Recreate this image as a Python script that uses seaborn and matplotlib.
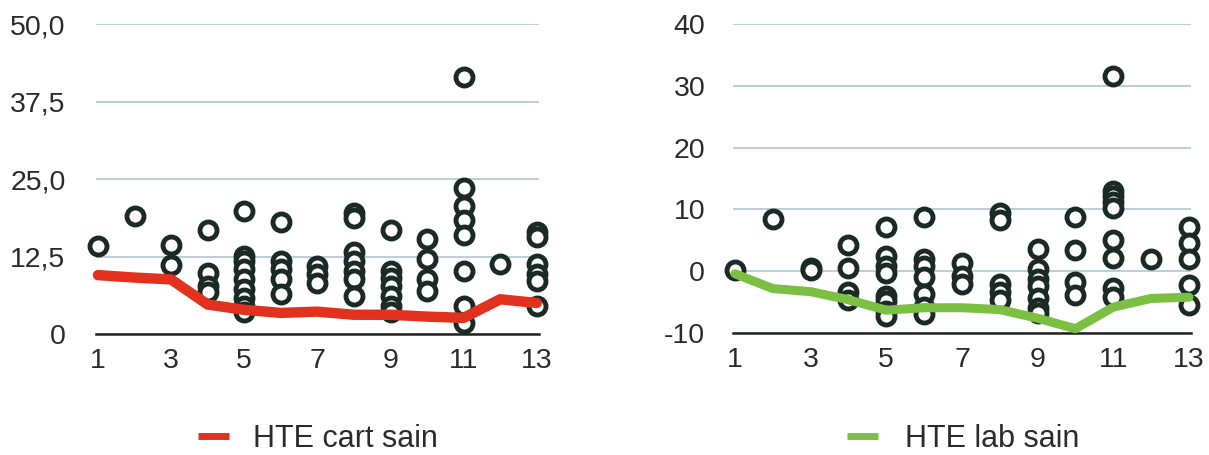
import pandas as pd
import matplotlib.pyplot as plt
import seaborn as sns

# x positions (1..13)
x_vals = list(range(1, 14))

# line series
cart_sain = [9.5, 9.1, 8.8, 4.75, 3.9, 3.4, 3.6, 3.1, 3.1, 2.8, 2.6, 5.6, 5.0]
lab_sain = [-0.4, -2.8, -3.3, -4.6, -6.3, -5.9, -5.9, -6.2, -7.6, -9.3, -5.8, -4.4, -4.2]

# scatter points, one list per x position
cart_pts = [
    [14.2],
    [19.1],
    [14.4, 11.1],
    [16.8, 9.8, 7.75, 6.7],
    [19.8, 12.6, 11.8, 10.5, 8.8, 7.2, 5.8, 4.5, 3.5],
    [18.1, 11.8, 10.5, 8.8, 6.4],
    [11.0, 9.7, 8.2],
    [19.5, 18.7, 13.2, 11.8, 10.2, 8.8, 6.1],
    [16.8, 10.2, 9.1, 7.75, 6.1, 4.5, 3.5],
    [15.4, 12.1, 8.8, 6.9],
    [41.5, 23.6, 20.6, 18.4, 16.0, 10.2, 4.5, 1.7],
    [11.3],
    [16.5, 15.7, 11.3, 9.7, 8.6, 4.5],
]
lab_pts = [
    [0.2],
    [8.4],
    [0.6, 0.2],
    [4.2, 0.5, -3.4, -4.6],
    [7.1, 2.5, 0.8, -0.2, -4.0, -4.8, -6.5, -7.3],
    [8.8, 2.0, 0.8, -1.0, -3.7, -5.8, -6.9],
    [1.4, -0.7, -2.0],
    [9.4, 8.3, -2.0, -3.3, -4.7],
    [3.6, 0.3, -1.3, -2.4, -4.4, -6.0, -6.8],
    [8.8, 3.5, -1.7, -3.9],
    [31.6, 13.0, 12.2, 11.2, 10.3, 5.1, 2.1, -2.7, -4.2],
    [2.0],
    [7.2, 4.6, 2.0, -2.3, -5.4],
]

x_ticks = [1, 3, 5, 7, 9, 11, 13]
left_yticks = [0, 12.5, 25, 37.5, 50]
left_ylabels = ["0", "12,5", "25,0", "37,5", "50,0"]
right_yticks = [-10, 0, 10, 20, 30, 40]
right_ylabels = ["-10", "0", "10", "20", "30", "40"]


def to_long(pts):
    rows = [(x, v) for x, vals in zip(x_vals, pts) for v in vals]
    return pd.DataFrame(rows, columns=["x", "y"])


sns.set_theme(style="white")
plt.rcParams["font.family"] = ["Liberation Sans", "DejaVu Sans"]

fig = plt.figure(figsize=(12.09, 4.55), dpi=100)
ax1 = fig.add_axes([0.0795, 0.266, 0.366, 0.681])
ax2 = fig.add_axes([0.6063, 0.268, 0.3787, 0.679])

grid_col = "#a9c2cb"
text_col = "#2b2b2b"
circ_col = "#1b2a24"

panels = [
    (ax1, cart_pts, cart_sain, "#e2321f", 7.5, "HTE cart sain", (0, 50), left_yticks, left_ylabels, 22, 0.263, 0.8),
    (ax2, lab_pts, lab_sain, "#7cc043", 6.5, "HTE lab sain", (-10, 40), right_yticks, right_ylabels, 20, 0.797, 0.9),
]

for ax, pts, line, col, lw, label, ylim, yt, yl, pad, lx, tpad in panels:
    df = to_long(pts)
    sns.scatterplot(data=df, x="x", y="y", ax=ax, s=150, marker="o",
                    facecolor="white", edgecolor=circ_col, linewidth=3.5,
                    clip_on=False, zorder=3)
    sns.lineplot(x=x_vals, y=line, ax=ax, color=col, linewidth=lw,
                 label=label, zorder=4, clip_on=False)
    ax.set_xlim(0.95, 13.05)
    ax.set_ylim(*ylim)
    ax.set_xticks(x_ticks)
    ax.set_yticks(yt)
    ax.set_yticklabels(yl)
    ax.set_xlabel("")
    ax.set_ylabel("")
    ax.tick_params(axis="y", length=0, pad=pad, labelsize=20.5, colors=text_col)
    ax.tick_params(axis="x", length=0, pad=10, labelsize=20.5, colors=text_col)
    ax.yaxis.grid(True, color=grid_col, linewidth=1.1)
    ax.set_axisbelow(True)
    for s in ["left", "right", "top"]:
        ax.spines[s].set_visible(False)
    ax.spines["bottom"].set_color("#222222")
    ax.spines["bottom"].set_linewidth(1.8)
    ax.spines["bottom"].set_zorder(2)
    leg = ax.legend(loc="center", bbox_to_anchor=(lx, 0.035), bbox_transform=fig.transFigure,
                    frameon=False, fontsize=22, handlelength=1.0, handletextpad=tpad,
                    labelcolor=text_col)
    for h in leg.get_lines():
        h.set_linewidth(5)
        h.set_solid_capstyle("butt")

fig.savefig("out.png", dpi=100, facecolor="white")
